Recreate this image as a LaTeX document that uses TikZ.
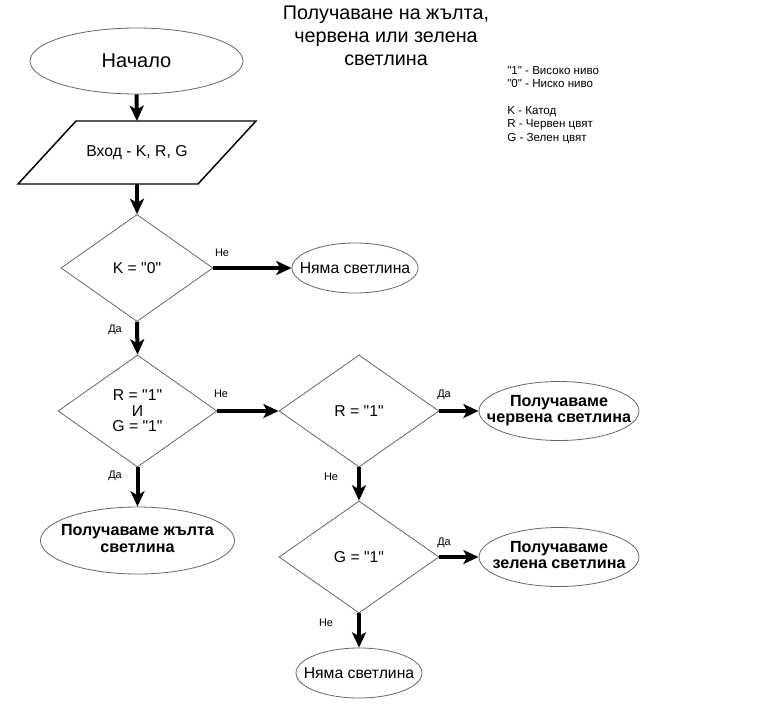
\documentclass[tikz,border=0pt]{standalone}
\usepackage{fontspec}
\setmainfont{Liberation Sans}[Ligatures=TeXOff]
\usetikzlibrary{shapes.geometric,arrows.meta}
\newcommand\zw[1]{\makebox[0pt]{\begin{tabular}{@{}c@{}}#1\end{tabular}}}
\newcommand\zs[1]{\makebox[0pt]{#1}}
\begin{document}
\begin{tikzpicture}[x=0.75pt,y=-0.75pt,
  shapeline/.style={draw=black!60, line width=0.6pt},
  term/.style={ellipse, shapeline, inner sep=0pt, align=center},
  decision/.style={diamond, shapeline, inner sep=0pt, align=center},
  flow/.style={line width=3pt, -{Stealth[length=11.5pt, width=10.5pt, inset=3pt]}},
  lbl/.style={font=\fontsize{8.2}{10}\selectfont, inner sep=0pt},
  txt/.style={font=\fontsize{11.8}{11.6}\selectfont},
  btxt/.style={font=\fontsize{12.1}{12.5}\selectfont\bfseries},
]
\path[use as bounding box, fill=white] (0,0) rectangle (760,703);

% title and legend
\node[anchor=north, inner sep=0pt, align=center, font=\fontsize{14.8}{17.4}\selectfont] (title) at (386,5.5)
  {Получаване на жълта,\\червена или зелена\\светлина};
\node[anchor=north west, inner sep=0pt, align=left, font=\fontsize{8.7}{10.1}\selectfont] (legend) at (507,65.8)
  {"1" - Високо ниво\\"0" - Ниско ниво\\[10.1pt]K - Катод\\R - Червен цвят\\G - Зелен цвят};

% nodes
\node[term, font=\fontsize{15}{16}\selectfont, minimum width=159.75pt, minimum height=49.5pt] (start) at (136.5,61) {\zs{Начало}};
\node[txt, minimum width=135pt, minimum height=47.25pt, inner sep=0pt, outer sep=0pt] (in) at (137,152.5) {Вход - K, R, G};
\draw[line width=1.1pt] ([xshift=21.75pt]in.north west) -- ([xshift=21.75pt]in.north east)
  -- ([xshift=-21.75pt]in.south east) -- ([xshift=-21.75pt]in.south west) -- cycle;
\node[decision, txt, minimum width=114pt, minimum height=80.25pt] (d1) at (137,268) {K = "0"};
\node[term, txt, minimum width=94.5pt, minimum height=37.5pt] (ny1) at (355,268) {\zs{Няма светлина}};
\node[decision, txt, minimum width=119.25pt, minimum height=84pt] (d2) at (137.5,411) {R = "1"\\И\\G = "1"};
\node[decision, txt, minimum width=120pt, minimum height=84pt] (d3) at (359,411) {R = "1"};
\node[term, btxt, minimum width=120pt, minimum height=44.25pt] (red) at (559,411) {\zw{Получаваме\\червена светлина}};
\node[decision, txt, minimum width=120pt, minimum height=84pt] (d4) at (359,557) {G = "1"};
\node[term, btxt, minimum width=120pt, minimum height=44.25pt] (grn) at (559,557) {\zw{Получаваме\\зелена светлина}};
\node[term, txt, minimum width=94.5pt, minimum height=37.5pt] (ny2) at (359,673) {\zs{Няма светлина}};
\node[term, btxt, minimum width=145.5pt, minimum height=50.25pt] (yel) at (137.5,540.5) {\zw{Получаваме жълта\\светлина}};

% connectors
\draw[flow] (start.south) -- (in.north);
\draw[flow] (in.south) -- (d1.north);
\draw[flow] (d1.east) -- (ny1.west);
\draw[flow] (d1.south) -- (d2.north);
\draw[flow] (d2.east) -- (d3.west);
\draw[flow] (d2.south) -- (yel.north);
\draw[flow] (d3.east) -- (red.west);
\draw[flow] (d3.south) -- (d4.north);
\draw[flow] (d4.east) -- (grn.west);
\draw[flow] (d4.south) -- (ny2.north);

% labels
\node[lbl] (l1) at (222,253) {Не};
\node[lbl] (l2) at (115,330) {Да};
\node[lbl] (l3) at (221,394) {Не};
\node[lbl] (l4) at (115,476) {Да};
\node[lbl] (l5) at (444,395) {Да};
\node[lbl] (l6) at (331,476.5) {Не};
\node[lbl] (l7) at (444,543) {Да};
\node[lbl] (l8) at (326,623) {Не};
\end{tikzpicture}
\end{document}
